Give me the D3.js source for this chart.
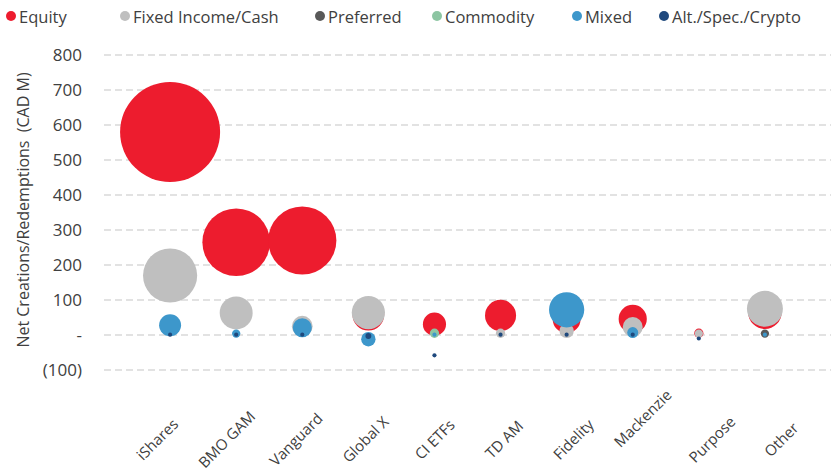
<!DOCTYPE html>
<html>
<head>
<meta charset="utf-8">
<script src="https://cdn.jsdelivr.net/npm/d3@7"></script>
<style>
  body { margin: 0; background: #fff; }
  svg text { font-family: "Open Sans", sans-serif; fill: #404040; white-space: pre; }
  .grid line { stroke: #d9d9d9; stroke-width: 1.5; stroke-dasharray: 7,4; }
</style>
</head>
<body>
<svg width="838" height="474"></svg>
<script>
// providers along the x axis
var providers = ["iShares", "BMO GAM", "Vanguard", "Global X", "CI ETFs", "TD AM", "Fidelity", "Mackenzie", "Purpose", "Other"];

// net creations / redemptions, CAD M
var equity      = [580, 265, 270, 58, 31, 56, 45, 46, 5, 65];
var fixedIncome = [170, 63, 25, 64, 0, 5, 12, 23, 4, 75];
var preferred   = [0, 0, 0, 0, 0, 0, 0, 0, 0, 4];
var commodity   = [0, 0, 0, 0, 5, 0, 0, 0, 0, 0];
var mixed       = [28, 4, 21, -12, 1, 0, 72, 7, 0, 1];
var alt         = [1, 1, 1, -3, -58, 1, 1, 1, -10, 0];
// alt bubbles are drawn with their own (small) size values
var altSize     = [1, 1, 1, 2, 1, 1, 1, 1, 1, 0];

var yTicks = [-100, 0, 100, 200, 300, 400, 500, 600, 700, 800];

var series = [
    {name: "Equity",            color: "#ed1c2e", values: equity},
    {name: "Fixed Income/Cash", color: "#bfbfbf", values: fixedIncome},
    {name: "Preferred",         color: "#595959", values: preferred},
    {name: "Commodity",         color: "#8cc5a2", values: commodity},
    {name: "Mixed",             color: "#3d97cb", values: mixed},
    {name: "Alt./Spec./Crypto", color: "#1f497d", values: alt, sizes: altSize}
];

var svg = d3.select("svg");

var x = d3.scaleLinear()
        .domain([0, providers.length + 1])
        .range([104, 831]);

// category labels sit on a slightly wider spacing than the bubbles
var xLabel = d3.scaleLinear()
        .domain([1, providers.length])
        .range([157, 781]);

var y = d3.scaleLinear()
        .domain([-100, 800])
        .range([370, 55]);

var r = d3.scaleSqrt()
        .domain([0, d3.max(equity)])
        .range([0, 50]);

function fmt(v) {
    if (v === 0) return "-";
    if (v < 0) return "(" + Math.abs(v) + ")";
    return v;
}

// gridlines
svg.append("g")
    .attr("class", "grid")
  .selectAll("line")
    .data(yTicks)
  .enter().append("line")
    .attr("x1", x(0))
    .attr("x2", x(providers.length + 1))
    .attr("y1", function(d) { return y(d); })
    .attr("y2", function(d) { return y(d); });

// y axis
var yAxis = svg.append("g")
    .attr("transform", "translate(" + x(0) + ",0)")
    .call(d3.axisLeft(y).tickValues(yTicks).tickSize(0).tickPadding(22).tickFormat(fmt));
yAxis.select(".domain").remove();
yAxis.selectAll("text")
    .style("font-family", "'Open Sans', sans-serif")
    .style("font-size", "17px")
    .attr("fill", "#404040");

svg.append("text")
    .attr("transform", "translate(23,210) rotate(-90)")
    .attr("text-anchor", "middle")
    .attr("dominant-baseline", "central")
    .style("font-size", "16px")
    .text("Net Creations/Redemptions  (CAD M)");

// bubbles, one layer per series, later series on top
series.forEach(function(s) {
    var sizes = s.sizes || s.values.map(Math.abs);
    svg.append("g")
      .selectAll("circle")
        .data(s.values)
      .enter().append("circle")
        .attr("cx", function(d, i) { return x(i + 1); })
        .attr("cy", function(d) { return y(d); })
        .attr("r", function(d, i) { return r(sizes[i]); })
        .attr("fill", s.color);
});

// category labels
svg.append("g")
  .selectAll("text")
    .data(providers)
  .enter().append("text")
    .attr("transform", function(d, i) {
        var ly = d === "Mackenzie" ? 418 : 439;
        return "translate(" + xLabel(i + 1) + "," + ly + ") rotate(-45)";
    })
    .attr("text-anchor", "middle")
    .attr("dominant-baseline", "central")
    .style("font-size", "15px")
    .text(function(d) { return d; });

// legend
var legendX = [11, 125, 320, 437, 577, 664];
var legend = svg.append("g")
  .selectAll("g")
    .data(series)
  .enter().append("g")
    .attr("transform", function(d, i) { return "translate(" + legendX[i] + ",16)"; });
legend.append("circle")
    .attr("r", 5)
    .attr("fill", function(d) { return d.color; });
legend.append("text")
    .attr("x", 8)
    .attr("dominant-baseline", "central")
    .style("font-size", "16.5px")
    .text(function(d) { return d.name; });
</script>
</body>
</html>
